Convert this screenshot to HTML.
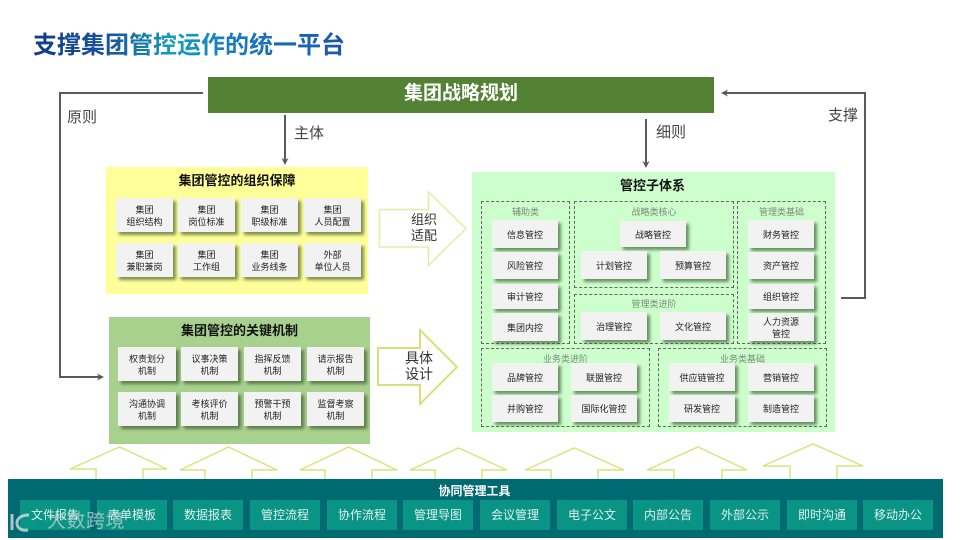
<!DOCTYPE html>
<html lang="zh"><head><meta charset="utf-8"><title>支撑集团管控运作的统一平台</title>
<style>
html,body{margin:0;padding:0;background:#fff}
#p{position:relative;width:960px;height:540px;overflow:hidden;background:#fff;font-family:"Liberation Sans","Noto Sans CJK SC",sans-serif}
#p div{position:absolute;box-sizing:border-box}
.c{display:flex;align-items:center;justify-content:center;text-align:center;line-height:12px;font-size:9px;color:#222;background:#f2f2f2;box-shadow:3px 3px 3px rgba(40,70,30,.6);padding-top:1px}
.s{width:66px;font-size:9px}
.d{border:1px dashed #666}
.l{font-size:9px;color:#7c8a7c;text-align:center;line-height:12px;white-space:nowrap}
.h{font-size:13px;font-weight:bold;color:#111;text-align:center;line-height:16px;white-space:nowrap}
.t{font-size:15px;color:#444;line-height:16px;white-space:nowrap}
.b{top:500px;width:70px;height:30px;background:#0a9485;color:#dff2ee;font-size:12px;line-height:31px;text-align:center}
.a{line-height:16px;color:#333;text-align:center;white-space:nowrap}
</style></head><body><div id="p">
<div style="left:33px;top:29px;width:314px;height:34px;line-height:34px;font-size:24px;font-weight:bold;white-space:nowrap;letter-spacing:0;background:linear-gradient(90deg,#0f3a86 0%,#17539f 24%,#14a0bb 45%,#1a7cc0 62%,#1a55ae 100%);-webkit-background-clip:text;background-clip:text;color:transparent">支撑集团管控运作的统一平台</div>

<div style="left:208px;top:77px;width:506px;height:36px;background:#548235;color:#fff;font-size:19px;font-weight:bold;line-height:33px;text-align:center">集团战略规划</div>

<svg width="960" height="540" style="position:absolute;left:0;top:0" fill="none">
<g stroke="#595959" stroke-width="2">
<path d="M203 93H60V377H100"/>
<path d="M285 115V161"/>
<path d="M646 119V164"/>
<path d="M841 298H865V93H725"/>
</g>
<g fill="#595959">
<path d="M104 377L97 373.500L99 377L97 380.500Z"/>
<path d="M285 165L281.500 158L285 160L288.500 158Z"/>
<path d="M646 168L642.500 161L646 163L649.500 161Z"/>
<path d="M721 93L728 89.500L726 93L728 96.500Z"/>
</g>
<path d="M379.500 209.500H428.500V192L466 228.500L428.500 265.500V247H379.500Z" fill="#fff" stroke="#e6eba6" stroke-width="1.500"/>
<path d="M378 348H420V330L457 367L420 404V385H378Z" fill="#fff" stroke="#d8df78" stroke-width="2"/>
<g stroke="#dde27a" stroke-width="1.500" fill="#fff">
<path d="M96 479V469H70L119.500 447L167 469H143V479"/>
<path d="M205 479V470H180L228.500 447L277 470H252V479"/>
<path d="M325 479V470H300L348.500 447L397 470H372V479"/>
<path d="M435 479V470H410L458.500 448L507 470H482V479"/>
<path d="M551 479V470H525L574.500 448L624 470H598V479"/>
<path d="M674 479V470H647L698 447L747 470H722V479"/>
<path d="M790 479V466H763L813 444L863 466H837V479"/>
</g>
</svg>

<div class="t" style="left:67px;top:110px">原则</div>
<div class="t" style="left:294px;top:126px">主体</div>
<div class="t" style="left:656px;top:125px">细则</div>
<div class="t" style="left:828px;top:108px">支撑</div>

<div style="left:106px;top:167px;width:262px;height:127px;background:#ffff99"></div>
<div class="h" style="left:106px;top:173px;width:262px">集团管控的组织保障</div>
<div class="c" style="left:116px;top:198px;width:57px;height:34px">集团<br>组织结构</div>
<div class="c" style="left:178px;top:198px;width:57px;height:34px">集团<br>岗位标准</div>
<div class="c" style="left:241px;top:198px;width:57px;height:34px">集团<br>职级标准</div>
<div class="c" style="left:304px;top:198px;width:57px;height:34px">集团<br>人员配置</div>
<div class="c" style="left:116px;top:243px;width:57px;height:34px">集团<br>兼职兼岗</div>
<div class="c" style="left:178px;top:243px;width:57px;height:34px">集团<br>工作组</div>
<div class="c" style="left:241px;top:243px;width:57px;height:34px">集团<br>业务线条</div>
<div class="c" style="left:304px;top:243px;width:57px;height:34px">外部<br>单位人员</div>

<div style="left:109px;top:317px;width:261px;height:127px;background:#a9d18e"></div>
<div class="h" style="left:109px;top:323px;width:261px">集团管控的关键机制</div>
<div class="c" style="left:118px;top:347px;width:58px;height:34px">权责划分<br>机制</div>
<div class="c" style="left:181px;top:347px;width:57px;height:34px">议事决策<br>机制</div>
<div class="c" style="left:244px;top:347px;width:57px;height:34px">指挥反馈<br>机制</div>
<div class="c" style="left:307px;top:347px;width:57px;height:34px">请示报告<br>机制</div>
<div class="c" style="left:118px;top:392px;width:58px;height:34px">沟通协调<br>机制</div>
<div class="c" style="left:181px;top:392px;width:57px;height:34px">考核评价<br>机制</div>
<div class="c" style="left:244px;top:392px;width:57px;height:34px">预警干预<br>机制</div>
<div class="c" style="left:307px;top:392px;width:57px;height:34px">监督考察<br>机制</div>

<div class="a" style="left:404px;top:212px;width:40px;font-size:13px">组织<br>适配</div>
<div class="a" style="left:399px;top:350px;width:40px;font-size:14px">具体<br>设计</div>

<div style="left:472px;top:172px;width:363px;height:260px;background:#ccffcc"></div>
<div class="h" style="left:472px;top:178px;width:361px">管控子体系</div>

<div class="d" style="left:481px;top:201px;width:89px;height:143px"></div>
<div class="d" style="left:574px;top:201px;width:160px;height:87px"></div>
<div class="d" style="left:574px;top:294px;width:160px;height:50px"></div>
<div class="d" style="left:737px;top:201px;width:89px;height:143px"></div>
<div class="d" style="left:481px;top:348px;width:169px;height:79px"></div>
<div class="d" style="left:658px;top:348px;width:169px;height:79px"></div>

<div class="l" style="left:481px;top:206px;width:89px">辅助类</div>
<div class="l" style="left:574px;top:206px;width:160px">战略类核心</div>
<div class="l" style="left:574px;top:298px;width:160px">管理类进阶</div>
<div class="l" style="left:737px;top:206px;width:89px">管理类基础</div>
<div class="l" style="left:481px;top:353px;width:169px">业务类进阶</div>
<div class="l" style="left:658px;top:353px;width:169px">业务类基础</div>

<div class="c s" style="left:492px;top:220px;height:28px">信息管控</div>
<div class="c s" style="left:492px;top:252px;height:27px">风险管控</div>
<div class="c s" style="left:492px;top:284px;height:25px">审计管控</div>
<div class="c s" style="left:492px;top:313px;height:28px">集团内控</div>

<div class="c s" style="left:620px;top:221px;height:26px">战略管控</div>
<div class="c s" style="left:581px;top:251px;height:28px">计划管控</div>
<div class="c s" style="left:660px;top:251px;height:28px">预算管控</div>
<div class="c s" style="left:581px;top:312px;height:28px">治理管控</div>
<div class="c s" style="left:660px;top:312px;height:28px">文化管控</div>

<div class="c s" style="left:748px;top:220px;height:28px">财务管控</div>
<div class="c s" style="left:748px;top:252px;height:27px">资产管控</div>
<div class="c s" style="left:748px;top:284px;height:25px">组织管控</div>
<div class="c s" style="left:748px;top:313px;height:28px">人力资源<br>管控</div>

<div class="c s" style="left:492px;top:363px;height:28px">品牌管控</div>
<div class="c s" style="left:571px;top:363px;height:28px">联盟管控</div>
<div class="c s" style="left:492px;top:395px;height:27px">并购管控</div>
<div class="c s" style="left:571px;top:395px;height:27px">国际化管控</div>
<div class="c s" style="left:669px;top:363px;height:28px">供应链管控</div>
<div class="c s" style="left:748px;top:363px;height:28px">营销管控</div>
<div class="c s" style="left:669px;top:395px;height:27px">研发管控</div>
<div class="c s" style="left:748px;top:395px;height:27px">制造管控</div>

<div style="left:8px;top:479px;width:935px;height:59px;background:#006a72"></div>
<div style="left:8px;top:483px;width:935px;font-size:12px;font-weight:bold;color:#fff;line-height:16px;text-align:center;padding-right:2px">协同管理工具</div>
<div class="b" style="left:20px">文件报告</div>
<div class="b" style="left:97px">表单模板</div>
<div class="b" style="left:173px">数据报表</div>
<div class="b" style="left:250px">管控流程</div>
<div class="b" style="left:327px">协作流程</div>
<div class="b" style="left:403px">管理导图</div>
<div class="b" style="left:480px">会议管理</div>
<div class="b" style="left:557px">电子公文</div>
<div class="b" style="left:633px">内部公告</div>
<div class="b" style="left:710px">外部公示</div>
<div class="b" style="left:787px">即时沟通</div>
<div class="b" style="left:863px">移动办公</div>

<svg width="30" height="24" style="position:absolute;left:8px;top:511px" fill="none" stroke="#d5dedd" stroke-opacity=".8" stroke-width="3">
<path d="M4 3V19"/><path d="M21 4C12 4 9 8 9 12C9 17 13 20 20 19"/>
</svg>
<div style="left:47px;top:510px;font-size:19px;line-height:24px;letter-spacing:.5px;white-space:nowrap;color:rgba(205,215,215,.7)">大数跨境</div>
</div></body></html>
